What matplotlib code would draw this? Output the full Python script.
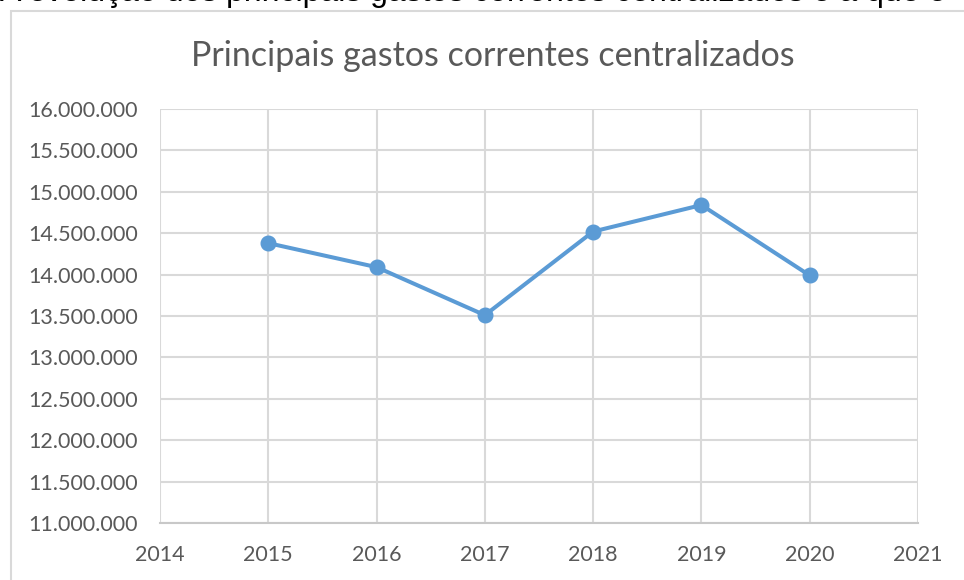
import matplotlib
matplotlib.use("Agg")
import matplotlib.pyplot as plt
from matplotlib.patches import Rectangle
from matplotlib.ticker import FuncFormatter

anos = [2015, 2016, 2017, 2018, 2019, 2020]
gastos = [14380000, 14090000, 13510000, 14520000, 14840000, 13990000]

titulo = "Principais gastos correntes centralizados"
texto_topo = "A evolução dos principais gastos correntes centralizados e a que e"

cinza_txt = "#595959"
cinza_grid = "#d9d9d9"
azul = "#5b9bd5"

fig = plt.figure(figsize=(9.64, 5.80), dpi=100)

# texto do documento cortado no topo
fig.text(0.0, 1 - 1.5 / 580, texto_topo, fontsize=23, family="Liberation Sans",
         color="black", va="baseline", ha="left")

# moldura do grafico (continua para fora da imagem)
fig.patches.append(Rectangle((11 / 964, -0.1), 1.2, 1 - 11 / 580 + 0.1,
                             transform=fig.transFigure, fill=False,
                             edgecolor=cinza_grid, linewidth=1.5))

ax = fig.add_axes([160 / 964, 1 - 523 / 580, 758 / 964, 414 / 580])
ax.plot(anos, gastos, color=azul, linewidth=2.9, marker="o", markersize=10.5,
        solid_capstyle="round", zorder=3)

ax.set_xlim(2014, 2021)
ax.set_ylim(11000000, 16000000)
ax.set_xticks(range(2014, 2022))
ax.set_yticks(range(11000000, 16000001, 500000))
ax.yaxis.set_major_formatter(FuncFormatter(lambda v, p: f"{int(v):,}".replace(",", ".")))

ax.grid(True, color=cinza_grid, linewidth=1.5)
ax.set_axisbelow(True)
for s in ["top", "right", "left"]:
    ax.spines[s].set_visible(False)
ax.spines["bottom"].set_color("#c8c8c8")
ax.spines["bottom"].set_linewidth(1.5)
ax.tick_params(length=0, labelsize=15.5, labelcolor=cinza_txt, pad=16)
for lbl in ax.get_xticklabels() + ax.get_yticklabels():
    lbl.set_family("Lato")

fig.text(493 / 964, 1 - 56 / 580, titulo, fontsize=24.5, family="Lato",
         color=cinza_txt, ha="center", va="center")

fig.savefig("out.png", dpi=100)
